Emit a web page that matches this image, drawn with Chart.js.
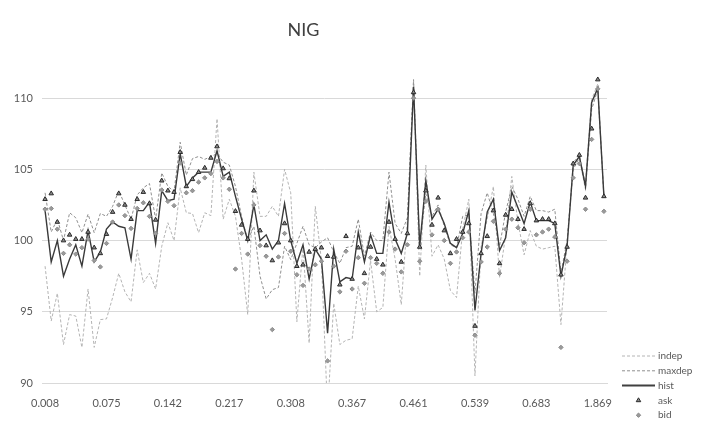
<!DOCTYPE html>
<html>
<head>
<meta charset="utf-8">
<script src="https://cdn.jsdelivr.net/npm/chart.js"></script>
<style>
  body { margin: 0; background: #fff; }
  #wrap { width: 710px; height: 423px; position: relative; }
</style>
</head>
<body>
<div id="wrap"><canvas id="chart"></canvas></div>
<script>
// tick labels shown on the category axis (every 10th point)
const tickLabels = ['0.008', '0.075', '0.142', '0.217', '0.308', '0.367', '0.461', '0.539', '0.683', '1.869'];

const indep = [
  98.2, 94.35, 96.3, 92.7, 94.8, 94.7, 92.5, 96.6, 92.5, 94.45,
  94.5, 96.0, 97.7, 96.4, 95.7, 99.35, 97.05, 97.7, 96.6, 99.6,
  101.25, 100.0, 103.7, 101.95, 101.9, 100.55, 101.95, 101.75, 108.55, 101.5,
  102.9, 101.7, 98.7, 94.8, 104.8, 101.7, 101.7, 102.4, 101.7, 105.0,
  103.35, 94.3, 99.6, 92.8, 102.4, 98.6, 88.0, 95.6, 92.7, 93.0,
  93.1, 96.8, 94.5, 98.6, 95.0, 95.3, 101.0, 98.7, 95.5, 101.5,
  111.2, 97.5, 105.3, 98.9, 99.7, 98.7, 96.5, 96.0, 100.8, 102.9,
  90.5, 99.6, 101.5, 103.8, 97.4, 100.4, 104.5, 101.3, 99.0, 100.7,
  99.6, 99.4, 99.5, 99.6, 94.1, 99.8, 105.5, 106.0, 104.0, 109.9,
  111.0, 103.2
];
const maxdep = [
  103.35, 100.6, 101.5, 100.0, 101.95, 101.6, 100.55, 101.85, 100.55, 101.9,
  101.7, 102.4, 103.5, 102.5, 101.5, 103.2, 103.7, 104.0, 101.5, 104.75,
  103.8, 103.45, 106.9, 104.6, 105.75, 105.9, 105.7, 105.9, 106.1, 105.5,
  105.3, 103.8, 101.7, 100.0, 101.0, 97.5, 95.9, 96.55, 96.7, 99.6,
  98.66, 99.8, 101.0, 99.7, 99.5, 99.9, 100.2, 99.2, 98.4, 99.5,
  99.6, 101.5, 98.9, 100.6, 100.0, 100.0, 104.8, 101.2, 100.5, 101.6,
  111.3, 99.6, 103.3, 101.7, 102.5, 101.0, 99.7, 99.5, 101.7, 101.8,
  96.3, 101.9, 103.35, 101.9, 99.6, 102.0, 103.8, 102.9, 101.7, 103.1,
  102.1, 102.1, 102.0, 102.2, 97.7, 100.0, 105.0, 105.8, 103.6, 109.2,
  110.6, 103.0
];
const hist = [
  102.1, 98.5, 100.0, 97.5, 98.7, 99.7, 98.2, 100.7, 98.5, 99.2,
  100.8, 101.3, 101.0, 100.9, 98.7, 102.1, 102.1, 102.7, 99.8, 103.5,
  102.8, 102.9, 106.1, 103.8, 104.4, 104.8, 104.8, 104.8, 106.3, 104.5,
  104.8, 103.1, 101.5, 100.0, 102.5, 100.0, 100.4, 99.4, 100.0, 102.6,
  100.0, 98.4, 99.7, 97.3, 99.4, 98.7, 93.5, 99.4, 97.1, 97.4,
  97.3, 100.6, 98.5, 100.4, 99.1, 99.1, 102.7, 100.1, 99.1, 100.5,
  110.8, 99.6, 104.2, 101.5, 102.2, 101.2, 99.8, 99.5, 100.5, 102.1,
  95.1, 99.1, 102.0, 102.9, 99.3, 100.2, 103.4, 102.3, 101.2, 102.7,
  101.4, 101.4, 101.4, 101.2, 97.5, 99.6, 105.3, 105.9, 103.8, 109.7,
  110.7, 103.1
];
const ask = [
  102.9, 103.3, 101.3, 100.0, 100.4, 100.1, 100.1, 100.6, 99.5, 99.1,
  100.45, 102.0, 103.3, 102.5, 101.5, 102.9, 103.4, 102.6, 101.45, 104.2,
  103.5, 103.4, 106.2, 103.8, 104.3, 104.8, 105.1, 105.8, 106.6, 105.06,
  104.36, 102.06, 101.1, 100.1, 103.5, 100.7, 99.65, 98.6, 99.85, 101.2,
  100.0, 98.2, 98.3, 99.2, 99.4, 99.5, 98.9, 98.85, 96.9, 100.3,
  97.3, 99.5, 97.7, 99.55, 98.7, 98.3, 101.3, 100.1, 98.5, 100.5,
  110.4, 99.55, 103.5, 101.1, 103.0, 100.7, 99.1, 100.1, 100.6, 101.2,
  94.0, 99.1, 100.3, 102.1, 98.4, 101.8, 102.2, 101.5, 100.8, 102.6,
  101.4, 101.5, 101.5, 101.2, 97.6, 99.55, 105.4, 106.0, 103.0, 107.85,
  111.3, 103.1
];
const bid = [
  102.2, 102.25, 100.8, 99.1, 99.7, 99.05, 99.5, 100.1, 98.6, 98.15,
  99.8, 101.3, 102.5, 101.75, 100.85, 102.25, 102.65, 101.7, 100.5, 103.55,
  102.75, 102.45, 105.45, 103.35, 103.5, 104.1, 104.4, 104.7, 105.55, 104.4,
  103.6, 98.0, 100.5, 99.05, 102.5, 99.65, 98.9, 93.75, 98.85, 100.5,
  99.25, 97.6, 96.85, 98.0, 98.3, 98.55, 91.55, 98.2, 96.4, 99.25,
  96.6, 98.8, 97.0, 98.8, 98.4, 97.7, 100.6, 99.4, 97.8, 99.7,
  110.0, 98.55, 102.75, 100.4, 102.2, 100.0, 98.4, 99.2, 100.2, 100.6,
  93.35, 98.5, 99.55, 101.35, 97.7, 100.8, 101.5, 100.9, 99.85, 102.2,
  100.4, 100.6, 100.8, 100.25, 92.5, 98.55, 104.4, 105.4, 102.2, 107.1,
  110.65, 102.05
];

// one category per point, only every 10th one is labelled
const categories = hist.map((_, i) => (i % 10 === 0 ? tickLabels[i / 10] : ''));

const textColor = '#595959';
const font = 'Lato';
const askFill = '#8a8a8a', askLine = '#2b2b2b';
const bidFill = '#9a9a9a', bidLine = '#8a8a8a';

// legend drawn by hand at the bottom right, like the excel one
const legendItems = [
  { label: 'indep', kind: 'line', color: '#b4b4b4', dash: [3, 2], width: 1 },
  { label: 'maxdep', kind: 'line', color: '#8f8f8f', dash: [3, 2], width: 1 },
  { label: 'hist', kind: 'line', color: '#404040', dash: [], width: 2 },
  { label: 'ask', kind: 'triangle' },
  { label: 'bid', kind: 'rectRot' }
];

const cornerLegend = {
  id: 'cornerLegend',
  afterDraw(chart) {
    const ctx = chart.ctx;
    ctx.save();
    ctx.font = '10px ' + font;
    ctx.textBaseline = 'middle';
    legendItems.forEach((it, k) => {
      const y = 356 + k * 14.8;
      if (it.kind === 'line') {
        ctx.strokeStyle = it.color;
        ctx.lineWidth = it.width;
        ctx.setLineDash(it.dash);
        ctx.beginPath();
        ctx.moveTo(622, y);
        ctx.lineTo(655, y);
        ctx.stroke();
        ctx.setLineDash([]);
      } else if (it.kind === 'triangle') {
        ctx.fillStyle = askFill; ctx.strokeStyle = askLine; ctx.lineWidth = 1;
        Chart.helpers.drawPoint(ctx, { pointStyle: 'triangle', radius: 2.6, borderWidth: 1 }, 638.5, y);
      } else {
        ctx.fillStyle = bidFill; ctx.strokeStyle = bidLine; ctx.lineWidth = 1;
        Chart.helpers.drawPoint(ctx, { pointStyle: 'rectRot', radius: 2.2, borderWidth: 1 }, 638.5, y);
      }
      ctx.fillStyle = textColor;
      ctx.fillText(it.label, 658, y);
    });
    ctx.restore();
  }
};

new Chart(document.getElementById('chart'), {
  type: 'line',
  data: {
    labels: categories,
    datasets: [
      { label: 'indep', data: indep, borderColor: '#b4b4b4', borderWidth: 1, borderDash: [3, 2],
        pointRadius: 0, tension: 0, order: 5 },
      { label: 'maxdep', data: maxdep, borderColor: '#8f8f8f', borderWidth: 1, borderDash: [3, 2],
        pointRadius: 0, tension: 0, order: 4 },
      { label: 'hist', data: hist, borderColor: '#3a3a3a', borderWidth: 1.4,
        pointRadius: 0, tension: 0, order: 3 },
      { label: 'ask', data: ask, showLine: false, pointStyle: 'triangle', pointRadius: 2.6,
        pointBackgroundColor: askFill, pointBorderColor: askLine, pointBorderWidth: 1, order: 2 },
      { label: 'bid', data: bid, showLine: false, pointStyle: 'rectRot', pointRadius: 2.2,
        pointBackgroundColor: bidFill, pointBorderColor: bidLine, pointBorderWidth: 1, order: 1 }
    ]
  },
  options: {
    responsive: true,
    maintainAspectRatio: false,
    animation: false,
    layout: { padding: { left: 0, right: 103, top: 0, bottom: 0 } },
    plugins: {
      legend: { display: false },
      tooltip: { enabled: false },
      title: {
        display: true,
        text: 'NIG',
        color: '#404040',
        font: { family: font, size: 18, weight: 'normal' },
        padding: { top: 19, bottom: 29 }
      }
    },
    scales: {
      x: {
        offset: true,
        grid: { display: false },
        border: { color: '#d9d9d9' },
        ticks: {
          autoSkip: false, maxRotation: 0, minRotation: 0, padding: 6,
          color: textColor, font: { family: font, size: 11 }
        },
        afterFit(scale) { scale.height = 40; }
      },
      y: {
        min: 90,
        max: 112,
        grid: { color: '#d9d9d9', drawTicks: false },
        border: { display: false },
        ticks: {
          stepSize: 5, includeBounds: false, padding: 9,
          color: textColor, font: { family: font, size: 11 }
        },
        afterFit(scale) { scale.width = 42; }
      }
    }
  },
  plugins: [cornerLegend]
});
</script>
</body>
</html>
